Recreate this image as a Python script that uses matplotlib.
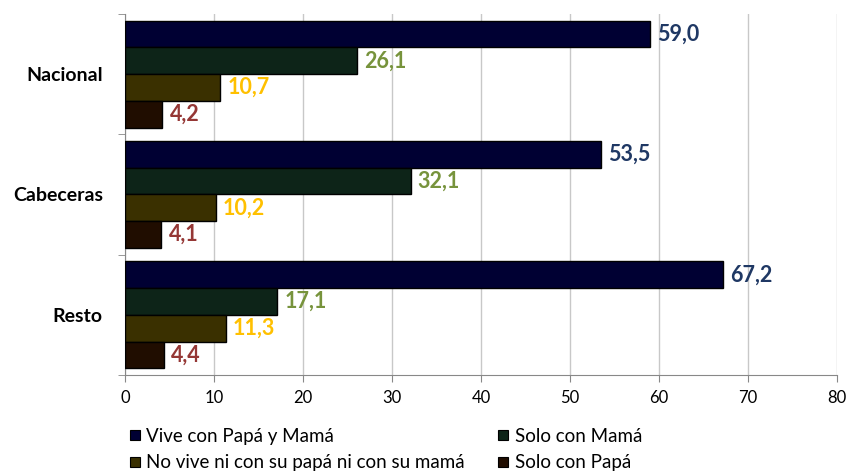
import matplotlib
matplotlib.use("Agg")
import matplotlib.pyplot as plt
import numpy as np
from matplotlib.lines import Line2D

categories = ["Nacional", "Cabeceras", "Resto"]
series_names = ["Vive con Papá y Mamá", "Solo con Mamá",
                "No vive ni con su papá ni con su mamá", "Solo con Papá"]
vive = [59.0, 53.5, 67.2]
solo_mama = [26.1, 32.1, 17.1]
no_vive = [10.7, 10.2, 11.3]
solo_papa = [4.2, 4.1, 4.4]
series = [vive, solo_mama, no_vive, solo_papa]
xticks = [0, 10, 20, 30, 40, 50, 60, 70, 80]

bar_colors = ["#000033", "#0D2418", "#3A3000", "#200D00"]
label_colors = ["#1F3864", "#77933C", "#FFC000", "#953735"]

plt.rcParams['font.family'] = ['Lato', 'DejaVu Sans']

fig = plt.figure(figsize=(8.51, 4.74), dpi=100)
ax = fig.add_axes([0.1469, 0.2089, 0.8366, 0.7616])

h = 0.222
y = np.arange(len(categories))
for i, (vals, bc, lc) in enumerate(zip(series, bar_colors, label_colors)):
    pos = y + (i - 1.5) * h
    ax.barh(pos, vals, height=h, color=bc, edgecolor="black", linewidth=1.0, zorder=3)
    for p, v in zip(pos, vals):
        ax.text(v + 0.8, p, f"{v:.1f}".replace(".", ","), va="center", ha="left",
                color=lc, fontsize=15.5, fontweight="bold", zorder=4)

ax.set_xlim(0, 80)
ax.set_ylim(2.5, -0.5)
ax.set_xticks(xticks)
ax.set_xticklabels([str(t) for t in xticks], fontsize=12)
ax.set_yticks(y)
ax.set_yticklabels(categories, fontsize=14, fontweight="bold")
ax.tick_params(axis="y", which="major", length=0, pad=16)
ax.set_yticks([-0.5, 0.5, 1.5, 2.5], minor=True)
ax.tick_params(axis="y", which="minor", length=5, color="#888888")
ax.tick_params(axis="x", length=5, color="#888888", pad=6)
ax.grid(axis="x", color="#C8C8C8", linewidth=1, zorder=0)
for s in ["top", "right"]:
    ax.spines[s].set_visible(False)
for s in ["left", "bottom"]:
    ax.spines[s].set_color("#888888")

order = [0, 2, 1, 3]
handles = [Line2D([0], [0], marker="s", linestyle="none", markersize=7,
                  markerfacecolor=bar_colors[k], markeredgecolor="black", markeredgewidth=0.8)
           for k in order]
labels = [series_names[k] for k in order]
fig.legend(handles, labels, ncol=2, loc="lower left",
           bbox_to_anchor=(0.128, -0.03), frameon=False, fontsize=13.5,
           handletextpad=0.1, columnspacing=1.55, labelspacing=0.5, handlelength=1.0)

fig.savefig("out.png", dpi=100)
